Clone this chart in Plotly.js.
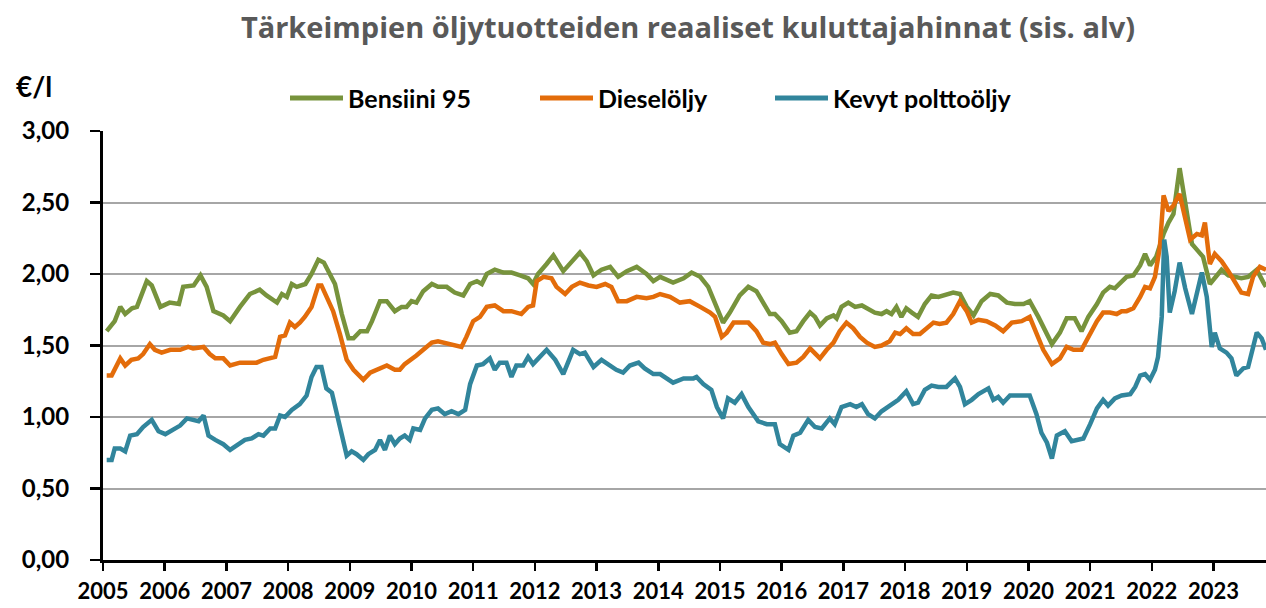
<!DOCTYPE html>
<html>
<head>
<meta charset="utf-8">
<script src="https://cdn.plot.ly/plotly-3.0.1.min.js"></script>
<style>html,body{margin:0;padding:0;background:#fff;}#chart{width:1266px;height:608px;}</style>
</head>
<body>
<div id="chart"></div>
<script>
const chartTitle = "Tärkeimpien öljytuotteiden reaaliset kuluttajahinnat (sis. alv)";
const unitLabel = "€/l";
const seriesNames = ["Bensiini 95", "Dieselöljy", "Kevyt polttoöljy"];
const yearTicks = [2005,2006,2007,2008,2009,2010,2011,2012,2013,2014,2015,2016,2017,2018,2019,2020,2021,2022,2023];
const valueTicks = [0, 0.5, 1, 1.5, 2, 2.5, 3];

const bensiiniX = [2005.06,2005.19,2005.28,2005.36,2005.47,2005.55,2005.71,2005.79,2005.93,2006.08,2006.23,2006.30,2006.47,2006.58,2006.68,2006.79,2006.95,2007.06,2007.22,2007.38,2007.54,2007.65,2007.82,2007.90,2007.98,2008.06,2008.14,2008.28,2008.38,2008.49,2008.58,2008.68,2008.76,2008.87,2008.98,2009.06,2009.17,2009.28,2009.36,
2009.49,2009.60,2009.73,2009.84,2009.92,2010.00,2010.08,2010.19,2010.33,2010.43,2010.57,2010.70,2010.84,2010.95,2011.06,2011.14,2011.22,2011.35,2011.49,2011.62,2011.76,2011.89,2011.97,2012.05,2012.19,2012.30,2012.46,2012.60,2012.73,2012.84,2012.95,2013.08,2013.22,2013.35,2013.49,2013.65,2013.81,2013.92,
2014.03,2014.24,2014.41,2014.54,2014.68,2014.81,2014.92,2015.05,2015.16,2015.32,2015.46,2015.59,2015.70,2015.81,2015.89,2016.00,2016.13,2016.24,2016.35,2016.46,2016.54,2016.62,2016.73,2016.84,2016.89,2016.97,2017.08,2017.19,2017.30,2017.40,2017.51,2017.62,2017.70,2017.78,2017.86,2017.94,2018.02,2018.11,2018.21,2018.32,2018.43,2018.54,
2018.67,2018.78,2018.89,2019.00,2019.11,2019.24,2019.38,2019.51,2019.65,2019.78,2019.92,2020.02,2020.16,2020.27,2020.38,
2020.51,2020.62,2020.75,2020.86,2020.97,2021.11,2021.21,2021.32,2021.40,2021.48,2021.59,2021.70,2021.81,2021.89,2021.97,2022.07,2022.19,2022.27,2022.35,2022.45,2022.54,2022.65,2022.75,2022.83,2022.94,2023.02,2023.13,2023.24,2023.35,2023.45,2023.56,2023.70,2023.81,2023.85];
const bensiiniY = [1.60,1.67,1.77,1.72,1.76,1.77,1.95,1.92,1.77,1.80,1.79,1.91,1.92,1.99,1.91,1.74,1.71,1.67,1.77,1.86,1.89,1.85,1.80,1.86,1.84,1.93,1.91,1.93,2.00,2.10,2.08,1.99,1.93,1.72,1.55,1.55,1.60,1.60,1.67,
1.81,1.81,1.74,1.77,1.77,1.81,1.80,1.88,1.93,1.91,1.91,1.87,1.85,1.93,1.95,1.93,2.00,2.03,2.01,2.01,1.99,1.97,1.93,2.00,2.07,2.13,2.02,2.09,2.15,2.09,1.99,2.03,2.05,1.98,2.02,2.05,2.00,1.95,
1.98,1.94,1.97,2.01,1.98,1.91,1.79,1.66,1.73,1.85,1.91,1.88,1.80,1.72,1.72,1.67,1.59,1.60,1.67,1.73,1.70,1.64,1.69,1.71,1.69,1.77,1.80,1.77,1.78,1.76,1.73,1.72,1.74,1.72,1.77,1.70,1.76,1.73,1.70,1.79,1.85,1.84,
1.86,1.87,1.86,1.77,1.71,1.81,1.86,1.85,1.80,1.79,1.79,1.81,1.70,1.60,1.51,
1.59,1.69,1.69,1.60,1.70,1.79,1.87,1.91,1.90,1.93,1.98,1.99,2.06,2.14,2.06,2.12,2.28,2.36,2.42,2.74,2.49,2.21,2.16,2.12,1.93,1.97,2.03,1.99,1.98,1.97,1.98,2.03,1.94,1.91];

const dieselX = [2005.06,2005.14,2005.28,2005.36,2005.46,2005.57,2005.65,2005.76,2005.84,2005.95,2006.09,2006.25,2006.38,2006.46,2006.63,2006.73,2006.82,2006.95,2007.06,2007.22,2007.38,2007.49,2007.60,2007.79,2007.87,2007.95,2008.03,2008.11,2008.19,2008.27,2008.38,2008.49,2008.54,2008.65,2008.73,2008.84,2008.95,2009.06,2009.22,2009.33,
2009.49,2009.60,2009.73,2009.81,2009.89,2010.00,2010.08,2010.19,2010.33,2010.43,2010.54,2010.65,2010.81,2010.89,2011.00,2011.11,2011.22,2011.35,2011.49,2011.62,2011.78,2011.89,2011.97,2012.03,2012.14,2012.27,2012.35,2012.49,2012.60,2012.73,2012.87,2013.00,2013.14,2013.24,2013.35,2013.49,2013.65,2013.81,2013.92,
2014.03,2014.19,2014.35,2014.51,2014.68,2014.84,2014.92,2015.03,2015.11,2015.22,2015.32,2015.46,2015.59,2015.70,2015.81,2015.89,2016.00,2016.11,2016.24,2016.35,2016.46,2016.54,2016.62,2016.73,2016.84,2016.94,2017.05,2017.16,2017.27,2017.38,2017.51,2017.62,2017.75,2017.84,2017.92,2018.02,2018.13,2018.24,2018.35,2018.46,2018.56,
2018.67,2018.78,2018.89,2019.00,2019.08,2019.19,2019.32,2019.46,2019.59,2019.73,2019.89,2020.02,2020.13,2020.24,2020.38,
2020.51,2020.62,2020.73,2020.86,2020.97,2021.11,2021.21,2021.32,2021.43,2021.51,2021.59,2021.70,2021.81,2021.89,2021.97,2022.05,2022.13,2022.19,2022.27,2022.35,2022.45,2022.54,2022.62,2022.73,2022.81,2022.86,2022.94,2023.02,2023.13,2023.24,2023.35,2023.45,2023.56,2023.64,2023.75,2023.85];
const dieselY = [1.29,1.29,1.41,1.36,1.40,1.41,1.44,1.51,1.47,1.45,1.47,1.47,1.49,1.48,1.49,1.44,1.41,1.41,1.36,1.38,1.38,1.38,1.40,1.42,1.56,1.57,1.66,1.63,1.66,1.70,1.77,1.92,1.92,1.81,1.74,1.58,1.40,1.33,1.26,1.31,
1.34,1.36,1.33,1.33,1.37,1.40,1.43,1.47,1.52,1.53,1.52,1.51,1.49,1.56,1.67,1.70,1.77,1.78,1.74,1.74,1.72,1.77,1.78,1.95,1.98,1.97,1.91,1.86,1.91,1.94,1.92,1.91,1.93,1.91,1.81,1.81,1.84,1.83,1.84,
1.86,1.84,1.80,1.81,1.77,1.73,1.70,1.56,1.59,1.66,1.66,1.66,1.60,1.52,1.51,1.52,1.44,1.37,1.38,1.42,1.48,1.44,1.41,1.47,1.52,1.60,1.66,1.62,1.56,1.52,1.49,1.50,1.53,1.59,1.58,1.62,1.58,1.58,1.62,1.66,1.65,
1.66,1.72,1.81,1.74,1.66,1.68,1.67,1.64,1.60,1.66,1.67,1.70,1.58,1.47,1.37,
1.41,1.49,1.47,1.47,1.56,1.67,1.73,1.73,1.72,1.74,1.74,1.76,1.84,1.91,1.90,1.98,2.19,2.55,2.44,2.48,2.56,2.37,2.24,2.28,2.27,2.36,2.07,2.14,2.09,2.02,1.94,1.87,1.86,1.98,2.05,2.03];

const polttoX = [2005.06,2005.14,2005.19,2005.28,2005.36,2005.44,2005.55,2005.65,2005.79,2005.90,2006.01,2006.14,2006.25,2006.36,2006.46,2006.55,2006.63,2006.71,2006.82,2006.95,2007.06,2007.17,2007.30,2007.41,2007.52,2007.60,2007.71,2007.79,2007.87,2007.95,2008.06,2008.19,2008.30,2008.38,2008.46,2008.54,2008.62,2008.71,2008.81,2008.95,2009.03,2009.11,2009.22,2009.30,2009.41,
2009.49,2009.57,2009.65,2009.73,2009.81,2009.89,2009.97,2010.03,2010.14,2010.22,2010.33,2010.43,2010.54,2010.65,2010.76,2010.87,2010.95,2011.06,2011.16,2011.27,2011.35,2011.43,2011.54,2011.62,2011.70,2011.81,2011.89,2011.97,2012.08,2012.19,2012.33,2012.46,2012.62,2012.73,2012.81,2012.95,2013.08,2013.22,2013.32,2013.43,2013.54,2013.68,2013.78,2013.92,
2014.03,2014.24,2014.41,2014.57,2014.62,2014.73,2014.86,2014.95,2015.05,2015.13,2015.24,2015.35,2015.46,2015.62,2015.76,2015.89,2015.97,2016.11,2016.19,2016.30,2016.43,2016.54,2016.65,2016.78,2016.86,2016.97,2017.11,2017.21,2017.30,2017.40,2017.51,2017.62,2017.75,2017.89,2018.02,2018.13,2018.21,2018.32,2018.43,2018.54,
2018.67,2018.81,2018.89,2018.97,2019.08,2019.19,2019.35,2019.43,2019.51,2019.59,2019.70,2019.84,2020.02,2020.13,2020.21,2020.30,2020.38,2020.46,
2020.51,2020.59,2020.70,2020.81,2020.89,2021.00,2021.11,2021.21,2021.29,2021.40,2021.51,2021.65,2021.73,2021.81,2021.89,2021.97,2022.05,2022.10,2022.16,2022.20,2022.24,2022.29,2022.37,2022.45,2022.54,2022.65,2022.73,2022.81,2022.89,2022.97,2023.02,2023.10,2023.21,2023.29,2023.37,2023.48,2023.56,2023.70,2023.78,2023.85];
const polttoY = [0.70,0.70,0.78,0.78,0.76,0.87,0.88,0.93,0.98,0.90,0.88,0.91,0.94,0.99,0.98,0.97,1.01,0.87,0.84,0.81,0.77,0.80,0.84,0.85,0.88,0.87,0.92,0.92,1.01,1.00,1.05,1.09,1.15,1.28,1.35,1.35,1.20,1.17,0.98,0.73,0.76,0.74,0.70,0.74,0.77,
0.84,0.77,0.87,0.81,0.85,0.87,0.84,0.92,0.91,0.99,1.05,1.06,1.02,1.04,1.02,1.05,1.23,1.36,1.37,1.41,1.33,1.38,1.38,1.28,1.36,1.36,1.42,1.37,1.42,1.47,1.40,1.30,1.47,1.44,1.45,1.35,1.40,1.36,1.33,1.31,1.36,1.38,1.34,1.30,
1.30,1.24,1.27,1.27,1.28,1.23,1.19,1.07,0.99,1.13,1.10,1.16,1.07,0.97,0.95,0.95,0.81,0.77,0.87,0.89,0.98,0.93,0.92,0.99,0.95,1.07,1.09,1.07,1.09,1.02,0.99,1.04,1.08,1.12,1.18,1.09,1.10,1.19,1.22,1.21,
1.21,1.27,1.21,1.09,1.12,1.16,1.20,1.12,1.14,1.10,1.15,1.15,1.15,1.02,0.89,0.82,0.71,0.87,
0.88,0.90,0.83,0.84,0.85,0.95,1.06,1.12,1.08,1.13,1.15,1.16,1.21,1.29,1.30,1.26,1.33,1.42,1.70,2.24,2.12,1.73,1.88,2.08,1.90,1.72,1.86,2.01,1.84,1.49,1.59,1.48,1.45,1.41,1.29,1.34,1.35,1.59,1.55,1.47];

const colors = ["#77933C", "#E36C0A", "#31859C"];
const baseFont = "Lato, 'Open Sans', sans-serif";

// plot-area geometry (pixels) used to place the hand-drawn legend
const PL = 103, PW = 1163, PB = 560, PH = 429;
const px = v => (v - PL) / PW;
const py = v => (PB - v) / PH;
const legendLineStart = [290, 540, 775];
const legendLineLen = 53;
const legendY = 98;

const traces = [
  {x: bensiiniX, y: bensiiniY, name: seriesNames[0]},
  {x: dieselX, y: dieselY, name: seriesNames[1]},
  {x: polttoX, y: polttoY, name: seriesNames[2]}
].map((t, i) => Object.assign(t, {
  type: "scatter", mode: "lines",
  line: {color: colors[i], width: 4.5},
  hoverinfo: "skip", showlegend: false
}));

const legendShapes = seriesNames.map((n, i) => ({
  type: "line", xref: "paper", yref: "paper",
  x0: px(legendLineStart[i]), x1: px(legendLineStart[i] + legendLineLen),
  y0: py(legendY), y1: py(legendY),
  line: {color: colors[i], width: 5}
}));

const legendTexts = seriesNames.map((n, i) => ({
  text: n, xref: "paper", yref: "paper",
  x: px(legendLineStart[i] + legendLineLen + 3), xanchor: "left",
  y: py(legendY), yanchor: "middle",
  showarrow: false,
  font: {family: baseFont, size: 25, color: "#000000", weight: 700}
}));

const layout = {
  width: 1266, height: 608,
  margin: {l: PL, r: 0, t: 131, b: 48, pad: 0},
  paper_bgcolor: "#ffffff", plot_bgcolor: "#ffffff",
  separators: ", ",
  font: {family: baseFont, size: 22, color: "#000000", weight: 700},
  title: {
    text: chartTitle,
    font: {family: "'Open Sans', sans-serif", size: 29, color: "#595959", weight: 700},
    xref: "container", x: 688 / 1266, xanchor: "center",
    yref: "container", y: 1 - 28 / 608, yanchor: "middle"
  },
  showlegend: false,
  xaxis: {
    type: "linear",
    range: [2005, 2023.85],
    tickmode: "array", tickvals: yearTicks, ticktext: yearTicks.map(String),
    ticks: "outside", ticklen: 8, tickwidth: 2.5, tickcolor: "#000000",
    ticklabelstandoff: 2,
    showline: true, linecolor: "#000000", linewidth: 3,
    showgrid: false, zeroline: false,
    tickfont: {family: baseFont, size: 22, color: "#000000", weight: 700}
  },
  yaxis: {
    range: [0, 3],
    tickmode: "array", tickvals: valueTicks,
    tickformat: ".2f",
    ticks: "outside", ticklen: 10, tickwidth: 2.5, tickcolor: "#000000",
    ticklabelstandoff: 16,
    showline: true, linecolor: "#000000", linewidth: 3,
    showgrid: true, gridcolor: "#A6A6A6", gridwidth: 2,
    zeroline: false,
    tickfont: {family: baseFont, size: 24, color: "#000000", weight: 700}
  },
  shapes: legendShapes,
  annotations: [{
    text: unitLabel, xref: "paper", yref: "paper",
    x: px(14), xanchor: "left",
    y: py(86), yanchor: "middle",
    showarrow: false,
    font: {family: baseFont, size: 28, color: "#000000", weight: 700}
  }].concat(legendTexts)
};

Plotly.newPlot("chart", traces, layout, {staticPlot: true, displayModeBar: false});
</script>
</body>
</html>
